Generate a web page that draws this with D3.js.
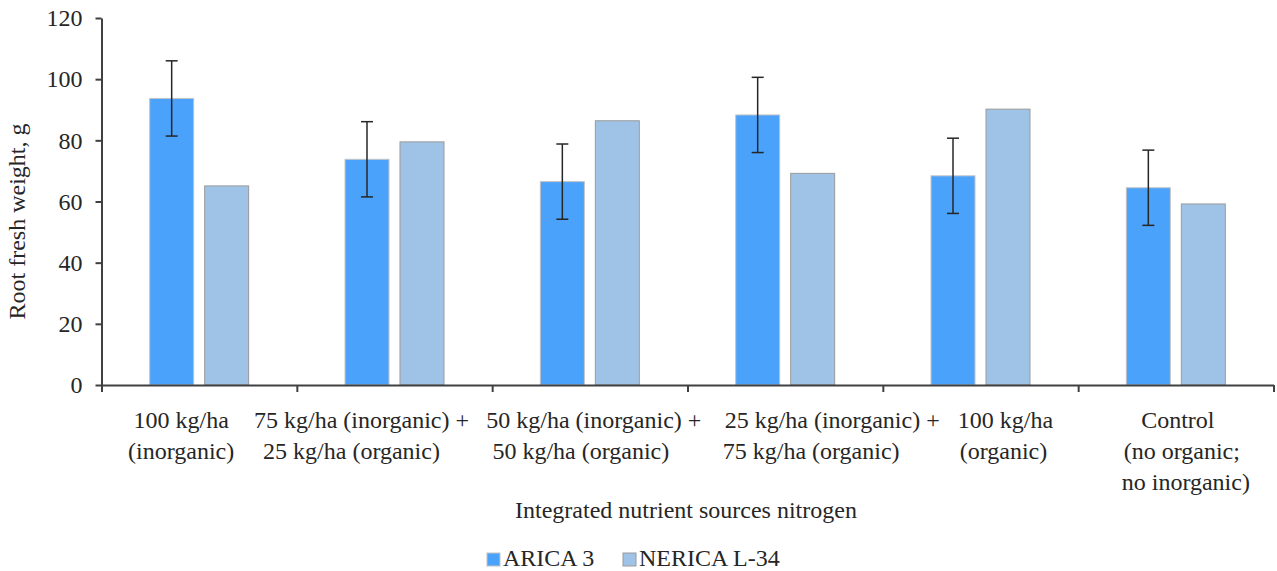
<!DOCTYPE html>
<html>
<head>
<meta charset="utf-8">
<script src="https://cdn.jsdelivr.net/npm/d3@7"></script>
<style>
  html, body { margin: 0; padding: 0; background: #fff; }
  svg text { font-family: "Liberation Serif", "Times New Roman", serif; fill: #262626; }
</style>
</head>
<body>
<svg id="chart" width="1277" height="571"></svg>
<script>
// Root fresh weight (g) by integrated nitrogen source, two rice varieties
const categories = [
  ["100 kg/ha", "(inorganic)"],
  ["75 kg/ha (inorganic) +", "25 kg/ha (organic)"],
  ["50 kg/ha (inorganic) +", "50 kg/ha (organic)"],
  ["25 kg/ha (inorganic) +", "75 kg/ha (organic)"],
  ["100 kg/ha", "(organic)"],
  ["Control", "(no organic;", "no inorganic)"]
];
const seriesNames = ["ARICA 3", "NERICA L-34"];
const arica3 = [93.7, 73.8, 66.5, 88.3, 68.4, 64.5];
const nericaL34 = [65.1, 79.5, 86.4, 69.2, 90.2, 59.2];
const arica3Err = [12.3, 12.3, 12.3, 12.3, 12.3, 12.3];
const yTicks = [0, 20, 40, 60, 80, 100, 120];

// label line offsets from the category centre (px)
const labelLineDx = [[-18, -18], [-33, -43], [4, -9], [47, 26], [25, 23], [2, 6, 10]];

const fontSize = 24;
const colors = { "ARICA 3": "#4aa2fb", "NERICA L-34": "#9fc3e6" };
const strokes = { "ARICA 3": "#c4c4c4", "NERICA L-34": "#9a9a9a" };

const svg = d3.select("#chart");
const plotLeft = 101.5, plotRight = 1273.5, plotTop = 18, plotBottom = 385;

const y = d3.scaleLinear().domain([0, 120]).range([plotBottom, plotTop]);
const x = d3.scaleBand().domain(d3.range(categories.length)).range([plotLeft, plotRight]).padding(0);
const xSub = d3.scaleBand().domain(seriesNames).range([0, x.bandwidth()])
  .paddingInner(0.2).paddingOuter(0.876);

const rows = categories.map((c, i) => ({ i, values: [arica3[i], nericaL34[i]] }));

// bars
const groups = svg.append("g").selectAll("g").data(rows).join("g")
  .attr("transform", d => `translate(${x(d.i)},0)`);
groups.selectAll("rect")
  .data(d => seriesNames.map((s, k) => ({ s, v: d.values[k] })))
  .join("rect")
  .attr("x", d => xSub(d.s))
  .attr("y", d => y(d.v))
  .attr("width", xSub.bandwidth())
  .attr("height", d => y(0) - y(d.v))
  .attr("fill", d => colors[d.s])
  .attr("stroke", d => strokes[d.s])
  .attr("stroke-width", 1);

// error bars on ARICA 3
const errG = svg.append("g").attr("stroke", "#262626").attr("stroke-width", 1.5);
arica3.forEach((v, i) => {
  const cx = x(i) + xSub("ARICA 3") + xSub.bandwidth() / 2;
  const hi = y(v + arica3Err[i]), lo = y(v - arica3Err[i]);
  errG.append("line").attr("x1", cx).attr("x2", cx).attr("y1", hi).attr("y2", lo);
  errG.append("line").attr("x1", cx - 6).attr("x2", cx + 6).attr("y1", hi).attr("y2", hi);
  errG.append("line").attr("x1", cx - 6).attr("x2", cx + 6).attr("y1", lo).attr("y2", lo);
});

// y axis
const yAxis = svg.append("g").attr("transform", `translate(${plotLeft},0)`)
  .call(d3.axisLeft(y).tickValues(yTicks).tickSize(6).tickSizeOuter(0).tickPadding(13));
yAxis.selectAll("text").attr("font-size", fontSize).attr("font-family", "Liberation Serif").attr("fill", "#262626");

// x axis with ticks at category boundaries
const xEdge = d3.scaleLinear().domain([0, categories.length]).range([plotLeft, plotRight]);
const xAxis = svg.append("g").attr("transform", `translate(0,${plotBottom})`)
  .call(d3.axisBottom(xEdge).tickValues(d3.range(categories.length + 1)).tickSize(7).tickSizeOuter(0).tickFormat(""));

[yAxis, xAxis].forEach(a => {
  a.select(".domain").attr("stroke", "#404040").attr("stroke-width", 2);
  a.selectAll(".tick line").attr("stroke", "#404040").attr("stroke-width", 2);
});

// category labels
const lineGap = 31;
categories.forEach((lines, i) => {
  const cx = x(i) + x.bandwidth() / 2;
  lines.forEach((t, k) => {
    svg.append("text")
      .attr("x", cx + labelLineDx[i][k])
      .attr("y", 428 + k * lineGap)
      .attr("text-anchor", "middle")
      .attr("font-size", fontSize)
      .text(t);
  });
});

// axis titles
svg.append("text")
  .attr("x", 686).attr("y", 518)
  .attr("text-anchor", "middle").attr("font-size", fontSize)
  .text("Integrated nutrient sources nitrogen");

svg.append("text")
  .attr("transform", `translate(25,${(plotTop + plotBottom) / 2 + 20}) rotate(-90)`)
  .attr("text-anchor", "middle").attr("font-size", fontSize)
  .text("Root fresh weight, g");

// legend
const legendX = [487, 623];
const legend = svg.append("g").selectAll("g").data(seriesNames).join("g")
  .attr("transform", (d, i) => `translate(${legendX[i]},553)`);
legend.append("rect").attr("width", 13).attr("height", 13)
  .attr("fill", d => colors[d]).attr("stroke", d => strokes[d]).attr("stroke-width", 1);
legend.append("text").attr("x", 16).attr("y", 13).attr("font-size", fontSize).text(d => d);
</script>
</body>
</html>
